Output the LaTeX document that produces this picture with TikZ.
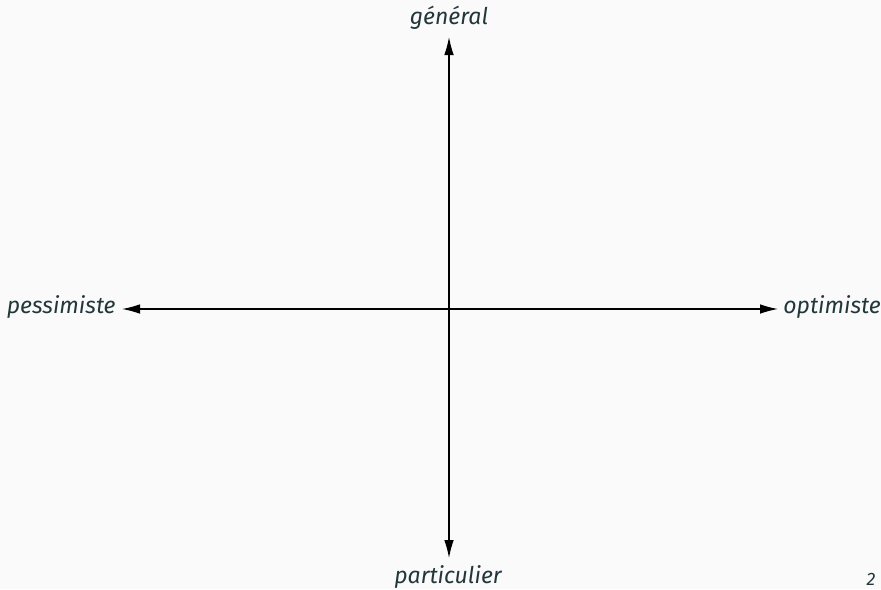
\documentclass[tikz,border=0pt]{standalone}
\usepackage{fontspec}
\setmainfont{Fira Sans}
\usepackage{tikz}
\usepackage{xcolor}
\usetikzlibrary{arrows.meta, positioning, calc}
\definecolor{mdarkteal}{HTML}{23373B}
\definecolor{mbg}{HTML}{FAFAFA}

\begin{document}
\begin{tikzpicture}[x=0.5pt, y=-0.5pt,
  every node/.style={font=\fontsize{11.5}{14}\selectfont\itshape, text=mdarkteal, inner sep=0pt},
  axis/.style={{Latex[length=9pt,width=4.8pt]}-{Latex[length=9pt,width=4.8pt]}, line width=0.6pt, draw=black}]
  \fill[mbg] (0,0) rectangle (881,589);
  \useasboundingbox (0,0) rectangle (881,589);

  \coordinate (top) at (449,37);
  \coordinate (bot) at (449,558);
  \coordinate (lft) at (122,309);
  \coordinate (rgt) at (778,309);

  \node[anchor=base] (gen) at (449,25) {général};
  \node[anchor=base] (par) at (448,583) {particulier};
  \node[anchor=base east] (pes) at (116,313) {pessimiste};
  \node[anchor=base west] (opt) at (783,313) {optimiste};

  \draw[axis] (bot) -- (top);
  \draw[axis] (lft) -- (rgt);

  \node[anchor=base, font=\fontsize{9}{11}\selectfont\itshape] (num) at (871,585) {2};
\end{tikzpicture}
\end{document}
